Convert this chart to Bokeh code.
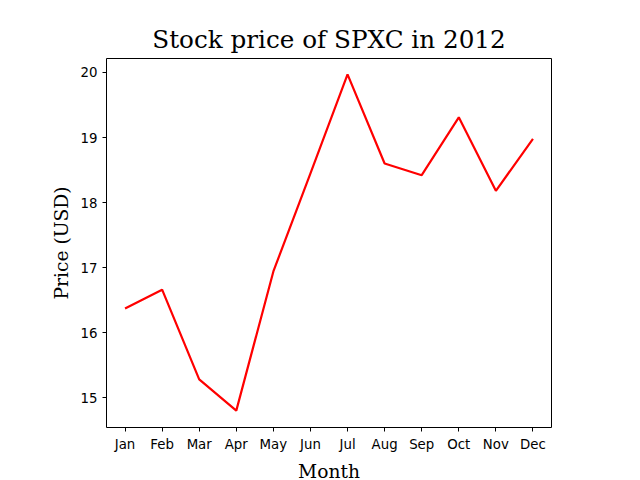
from bokeh.plotting import figure
from bokeh.embed import file_html
from bokeh.resources import INLINE
from bokeh.models import Range1d

months = ["Jan", "Feb", "Mar", "Apr", "May", "Jun",
          "Jul", "Aug", "Sep", "Oct", "Nov", "Dec"]
price = [16.37, 16.66, 15.28, 14.80, 16.94, 18.45,
         19.97, 18.60, 18.42, 19.31, 18.18, 18.98]

xs = list(range(len(months)))

p = figure(width=624, height=464, output_backend="svg", toolbar_location=None,
           x_range=Range1d(-0.5, 11.5), y_range=Range1d(14.54, 20.215),
           title="Stock price of SPXC in 2012")
p.frame_width = 445
p.frame_height = 369
p.min_border_left = 106
p.min_border_top = 58
p.min_border_right = 73
p.min_border_bottom = 37

p.title.align = "center"
p.title.text_font = "DejaVu Serif"
p.title.text_font_size = "18.5pt"
p.title.text_font_style = "normal"
p.title.text_color = "black"

p.line(xs, price, line_color="red", line_width=2.2)

p.xaxis.ticker = xs
p.xaxis.major_label_overrides = {i: m for i, m in enumerate(months)}
p.xaxis.axis_label = "Month"
p.yaxis.axis_label = "Price (USD)"
for ax in (p.xaxis, p.yaxis):
    ax.axis_label_text_font = "DejaVu Serif"
    ax.axis_label_text_font_size = "14pt"
    ax.axis_label_text_font_style = "normal"
    ax.axis_label_text_color = "black"
    ax.axis_label_standoff = 6
    ax.major_label_text_font = "DejaVu Sans"
    ax.major_label_text_font_size = "10pt"
    ax.major_label_text_color = "black"
    ax.minor_tick_line_color = None
    ax.major_tick_line_color = "black"
    ax.major_tick_in = 0
    ax.major_tick_out = 4
    ax.axis_line_color = None
p.yaxis.ticker = [15, 16, 17, 18, 19, 20]
p.xgrid.grid_line_color = None
p.ygrid.grid_line_color = None
p.outline_line_color = "black"
p.outline_line_alpha = 1

open("out.html", "w").write(file_html(p, INLINE))
